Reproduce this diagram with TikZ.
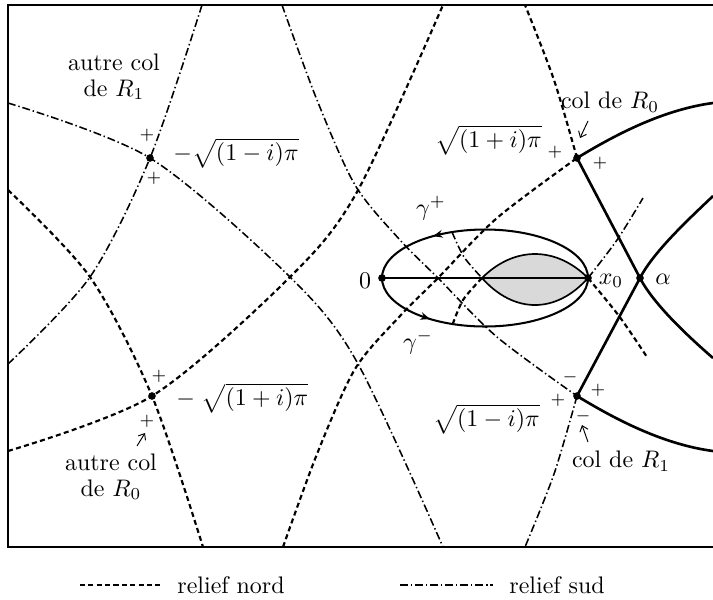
\documentclass[tikz,border=0pt]{standalone}
\usepackage{amsmath,amssymb}
\usetikzlibrary{arrows.meta}

\begin{document}
\begin{tikzpicture}[x=0.418pt,y=-0.418pt,>=Stealth,
  relnord/.style={line width=0.9pt,dash pattern=on 2.1pt off 1.4pt},
  relsud/.style={line width=0.65pt,dash pattern=on 3.3pt off 1.2pt on 0.6pt off 1.2pt},
  descente/.style={line width=1.1pt},
  signe/.style={font=\scriptsize,inner sep=0pt},
  colpt/.style={circle,fill,inner sep=0pt,minimum size=3.2pt},
  fleche/.style={-{Straight Barb[length=2.2pt,width=3.6pt]},line width=0.4pt}]
  \useasboundingbox (0,0) rectangle (713,599);
  \draw[line width=0.5pt] (713,5) -- (8,5) -- (8,547) -- (713,547);
  \coordinate (A) at (150,158);
  \coordinate (B) at (152,396);
  \coordinate (C) at (577,158);
  \coordinate (D) at (577,396);
  \coordinate (O) at (382,278);
  \coordinate (L) at (482,278);
  \coordinate (X) at (588,278);
  \coordinate (al) at (640,278);
  \draw[relnord] plot[smooth] coordinates {(8,190) (90,277) (B) (203,547)};
  \draw[relnord] plot[smooth] coordinates {(8,451) (B) (290,277) (357,192) (443,5)};
  \draw[relnord] plot[smooth] coordinates {(283,547) (317,454) (355,369) (400,316) (438,278) (497,218) (C)};
  \draw[relnord] plot[smooth] coordinates {(C) (554,80) (525,5)};
  \draw[relsud] plot[smooth] coordinates {(8,103) (A) (290,277) (357,362) (443,547)};
  \draw[relsud] plot[smooth] coordinates {(202,5) (A) (90,277) (8,364)};
  \draw[relsud] plot[smooth] coordinates {(282,5) (317,100) (355,185) (400,240) (438,278) (497,337) (D)};
  \draw[relsud] plot[smooth] coordinates {(D) (554,474) (525,547)};
  \draw[relsud] plot[smooth] coordinates {(X) (617,240) (643,198)};
  \draw[relnord] plot[smooth] coordinates {(X) (619,316) (647,357)};
  \draw[relsud] plot[smooth] coordinates {(452,232) (464,257) (L)};
  \draw[relnord] plot[smooth] coordinates {(L) (463,300) (452,326)};
  \draw[descente] (C) .. controls (610,138) and (660,110) .. (713,103);
  \draw[descente] (D) .. controls (610,416) and (660,444) .. (713,451);
  \draw[descente] (C) -- (al) .. controls (654,305) and (690,338) .. (713,358);
  \draw[descente] (D) -- (al) .. controls (654,251) and (690,218) .. (713,196);
  \draw[line width=0.85pt] (485,278) ellipse [x radius=103, y radius=48.5];
  \draw[line width=0.7pt,fill=gray!30] (L) .. controls (514,246) and (556,246) .. (X)
    .. controls (556,314) and (514,314) .. (L);
  \draw[line width=0.5pt] (O) -- (X);
  \draw[-{Stealth[length=4pt,width=3.2pt]},line width=0.85pt] (440,234.4) -- (433,236.1);
  \draw[-{Stealth[length=4pt,width=3.2pt]},line width=0.85pt] (423,316.7) -- (430,319);
  \node[colpt] (nA) at (A) {};
  \node[colpt] (nB) at (B) {};
  \node[colpt] (nC) at (C) {};
  \node[colpt] (nD) at (D) {};
  \node[colpt] (nO) at (O) {};
  \node[colpt] (nX) at (X) {};
  \node[colpt] (nal) at (al) {};
  \node[align=center] (tA) at (114,77) {autre col\\[-1.5pt]de $R_1$};
  \node[anchor=west] (lA) at (165,153) {$-\sqrt{(1-i)\pi}$};
  \node[signe] (sA1) at (147,135) {$+$};
  \node[signe] (sA2) at (154,178) {$+$};
  \node[anchor=west] (lB) at (168,398) {$-\;\sqrt{(1+i)\pi}$};
  \node[signe] (sB1) at (159,376) {$+$};
  \node[signe] (sB2) at (147,421) {$+$};
  \node[align=center] (tB) at (111,477) {autre col\\[-1.5pt]de $R_0$};
  \coordinate (fB1) at (137,446);
  \coordinate (fB2) at (145,433);
  \draw[fleche] (fB1) -- (fB2);
  \node[anchor=east] (lC) at (550,140) {$\sqrt{(1+i)\pi}$};
  \node[signe] (sC1) at (555,152) {$+$};
  \node[signe] (sC2) at (600,163) {$+$};
  \node (tC) at (610,102) {col de $R_0$};
  \coordinate (fC1) at (588,121);
  \coordinate (fC2) at (580,138);
  \draw[fleche] (fC1) -- (fC2);
  \node[anchor=east] (lD) at (548,419) {$\sqrt{(1-i)\pi}$};
  \node[signe] (sD1) at (570,377) {$-$};
  \node[signe] (sD2) at (598,390) {$+$};
  \node[signe] (sD3) at (558,400) {$+$};
  \node[signe] (sD4) at (583,416) {$-$};
  \node (tD) at (621,461) {col de $R_1$};
  \coordinate (fD1) at (588,442);
  \coordinate (fD2) at (582,425);
  \draw[fleche] (fD1) -- (fD2);
  \node (l0) at (365,281) {$0$};
  \node (lX) at (611,281) {$x_0$};
  \node (lal) at (663,279) {$\alpha$};
  \node (gp) at (431,208) {$\gamma^+$};
  \node (gm) at (418,342) {$\gamma^-$};
  \node[anchor=west] (lnord) at (169,585) {relief nord};
  \node[anchor=west] (lsud) at (501,585) {relief sud};
  \coordinate (ln) at (80,585);
  \coordinate (ls) at (400,585);
  \draw[relnord,shorten >=3.3pt] (ln) -- (lnord);
  \draw[relsud,shorten >=3.3pt] (ls) -- (lsud);
\end{tikzpicture}
\end{document}
